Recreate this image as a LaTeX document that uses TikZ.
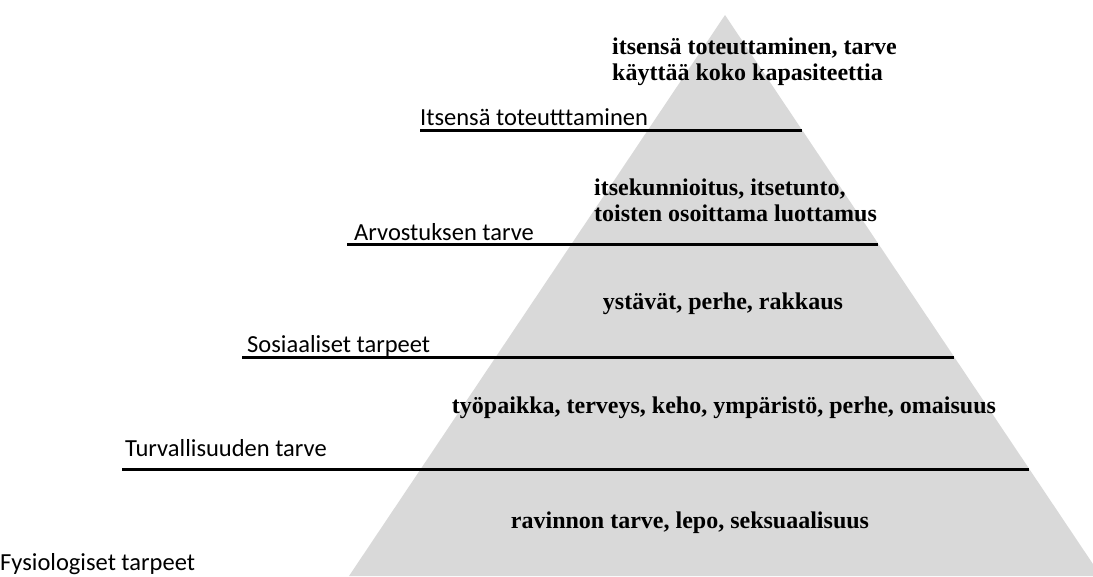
\documentclass[tikz,border=0pt]{standalone}
\usepackage{fontspec}
\setmainfont{Liberation Serif}
\newfontfamily\calibri{Carlito}
\definecolor{pyrgray}{RGB}{217,217,217}
\usetikzlibrary{positioning}

\tikzset{
  need/.style={font=\fontsize{24}{26}\selectfont\bfseries, align=left, inner sep=0pt},
  tier/.style={font=\calibri\fontsize{24.5}{26}\selectfont, anchor=base west, inner sep=0pt},
  divider/.style={line width=3pt, black}
}

\begin{document}
\begin{tikzpicture}[x=1pt,y=-1pt]
  \useasboundingbox (0,0) rectangle (1093,576);
  \clip (0,0) rectangle (1093,576);

  %--- Pyramid ---
  \coordinate (top) at (725,15);
  \coordinate (baseL) at (349,576);
  \coordinate (baseR) at (1101,576);
  \fill[pyrgray] (top) -- (baseL) -- (baseR) -- cycle;

  % divider ends
  \coordinate (s1) at (420,130);  \coordinate (e1) at (802,130);
  \coordinate (s2) at (347,244);  \coordinate (e2) at (878,244);
  \coordinate (s3) at (242,357);  \coordinate (e3) at (954,357);
  \coordinate (s4) at (122,469);  \coordinate (e4) at (1029,469);

  \draw[divider] (s1) -- (e1);
  \draw[divider] (s2) -- (e2);
  \draw[divider] (s3) -- (e3);
  \draw[divider] (s4) -- (e4);

  % tier names
  \node[tier] (self) at (420,125) {Itsensä toteutttaminen};
  \node[tier] (esteem) at (354,240) {Arvostuksen tarve};
  \node[tier] (social) at (247,352) {Sosiaaliset tarpeet};
  \node[tier] (safety) at (125,456) {Turvallisuuden tarve};
  \node[tier] (physio) at (0,570) {Fysiologiset tarpeet};

  % needs inside the pyramid
  \node[need, anchor=west] (selfneed) at (612,62) {itsensä toteuttaminen, tarve\\käyttää koko kapasiteettia};
  \node[need, anchor=west] (esteemneed) at (594,200) {itsekunnioitus, itsetunto,\\toisten osoittama luottamus};
  \node[need] (socialneed) at (723,304) {ystävät, perhe, rakkaus};
  \node[need] (safetyneed) at (724,408) {työpaikka, terveys, keho, ympäristö, perhe, omaisuus};
  \node[need] (physioneed) at (690,523) {ravinnon tarve, lepo, seksuaalisuus};
\end{tikzpicture}
\end{document}
